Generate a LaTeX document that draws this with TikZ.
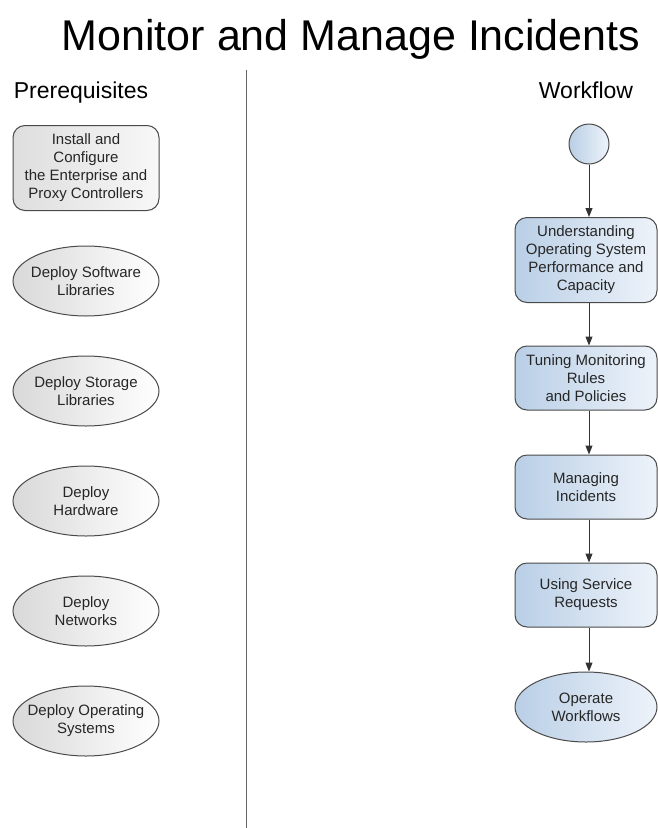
\documentclass[tikz,border=0pt]{standalone}
\usepackage{fontspec}
\setmainfont{Liberation Sans}
\usepackage{xcolor}
\usetikzlibrary{positioning,shapes.geometric,arrows.meta}

\definecolor{flowleft}{HTML}{B9CFE6}
\definecolor{flowright}{HTML}{EEF3FA}
\definecolor{edge}{HTML}{4A4A4A}

\begin{document}
\begin{tikzpicture}[x=1pt,y=-1pt,->,>={Triangle[length=9pt,width=7pt]},
        every node/.style={font=\fontsize{15}{18}\selectfont, text=black!85, align=center, inner sep=0pt},
        prereq box/.style={draw=edge, line width=1pt, rectangle, rounded corners=12pt,
            left color=black!13, right color=black!3, minimum width=146pt, minimum height=85pt},
        prereq node/.style={draw=edge, line width=1pt, ellipse, inner xsep=-12pt,
            left color=black!15, right color=white, minimum width=146pt, minimum height=70pt},
        flow node/.style={draw=edge, line width=1pt, rectangle, rounded corners=12pt,
            left color=flowleft, right color=flowright, minimum width=142pt, minimum height=64pt},
        flow end/.style={draw=edge, line width=1pt, ellipse, inner xsep=-12pt,
            left color=flowleft, right color=flowright, minimum width=142pt, minimum height=70pt},
        flow start/.style={draw=edge, line width=1pt, circle,
            left color=flowleft, right color=flowright, minimum size=40pt},
        flow arrow/.style={draw=black!80, fill=black!80, line width=1pt}]

\useasboundingbox (0,0) rectangle (658,828);

% headings
\node[anchor=base, text=black, font=\fontsize{43}{50}\selectfont] (t) at (351,50) {Monitor and Manage Incidents};
\node[anchor=base, text=black, font=\fontsize{23}{27}\selectfont] (p) at (81,98) {Prerequisites};
\node[anchor=base, text=black, font=\fontsize{23}{27}\selectfont] (w) at (586,98) {Workflow};
\draw[-, draw=black!60, line width=1pt] (246,70) -- (246,828);

% prerequisites
\node[prereq box] (1) at (86,168) {Install and\\Configure\\the Enterprise and\\Proxy Controllers};
\node[prereq node] (2) at (86,281) {Deploy Software\\Libraries};
\node[prereq node] (3) at (86,391) {Deploy Storage\\Libraries};
\node[prereq node] (4) at (86,501) {Deploy\\Hardware};
\node[prereq node] (5) at (86,611) {Deploy\\Networks};
\node[prereq node] (6) at (86,721) {Deploy Operating\\Systems};

% workflow
\node[flow start] (7) at (589,144) {};
\node[flow node, minimum height=85pt] (8) at (586,260) {Understanding\\Operating System\\Performance and\\Capacity};
\node[flow node] (9) at (586,378) {Tuning Monitoring\\Rules\\and Policies};
\node[flow node] (10) at (586,487) {Managing\\Incidents};
\node[flow node] (11) at (586,595) {Using Service\\Requests};
\node[flow end] (12) at (586,707) {Operate\\Workflows};

\draw[flow arrow] (7.south) -- (7.south |- 8.north);
\draw[flow arrow] (7.south |- 8.south) -- (7.south |- 9.north);
\draw[flow arrow] (7.south |- 9.south) -- (7.south |- 10.north);
\draw[flow arrow] (7.south |- 10.south) -- (7.south |- 11.north);
\draw[flow arrow] (7.south |- 11.south) -- (7.south |- 12.north);

\end{tikzpicture}
\end{document}
